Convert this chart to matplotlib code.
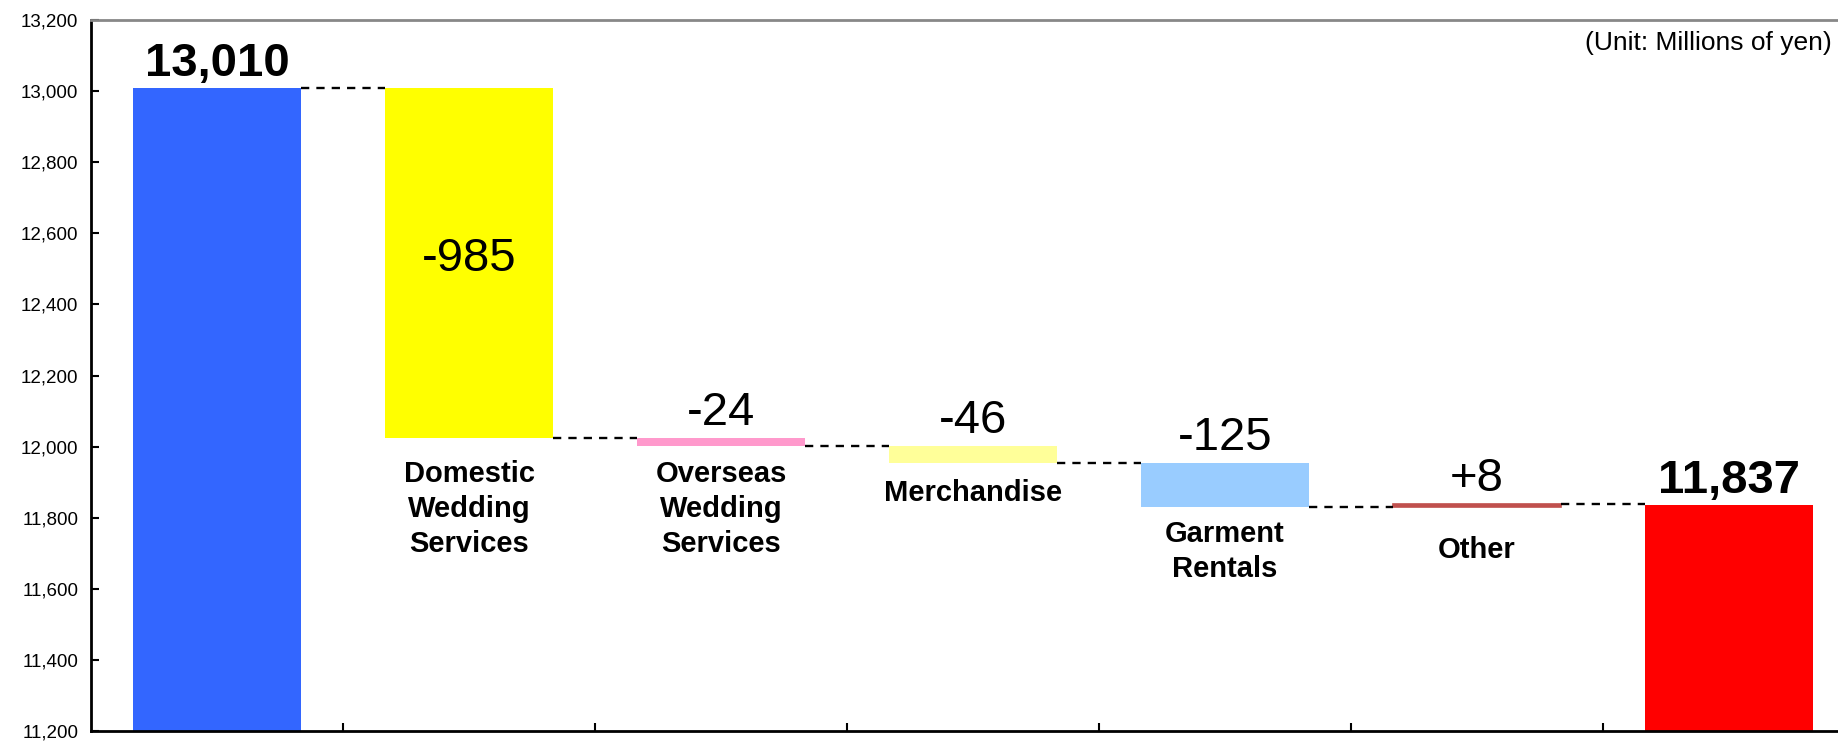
import matplotlib
matplotlib.use('Agg')
import matplotlib.pyplot as plt
from matplotlib.ticker import FuncFormatter, MultipleLocator

plt.rcParams['font.family'] = ['Liberation Sans', 'DejaVu Sans']

# data
categories = ['', 'Domestic\nWedding\nServices', 'Overseas\nWedding\nServices',
              'Merchandise', 'Garment\nRentals', 'Other', '']
start_value = 13010
deltas = [-985, -24, -46, -125, 8]
end_value = 11837
value_labels = ['13,010', '-985', '-24', '-46', '-125', '+8', '11,837']
colors = ['#3366FF', '#FFFF00', '#FF99CC', '#FFFF99', '#99CCFF', '#C0504D', '#FF0000']

# waterfall bottoms / heights
bottoms, heights = [0], [start_value]
level = start_value
for d in deltas:
    new = level + d
    bottoms.append(min(level, new))
    heights.append(abs(d))
    level = new
bottoms.append(0)
heights.append(end_value)
tops = [b + h for b, h in zip(bottoms, heights)]

fig = plt.figure(figsize=(18.38, 7.41), dpi=100)
# axes extends a bit past the right edge like the original
ax = fig.add_axes([91 / 1838, 10 / 741, 1764 / 1838, 711 / 741])

width = 0.67
x = list(range(len(categories)))
ax.bar(x, heights, bottom=bottoms, width=width, color=colors, linewidth=0)
# make the tiny "Other" bar visible like the source
ax.bar(x[5], heights[5], bottom=bottoms[5], width=width, color=colors[5],
       edgecolor=colors[5], linewidth=1.2)

# connector lines
levels = [start_value]
lv = start_value
for d in deltas:
    lv += d
    levels.append(lv)
for i in range(len(categories) - 1):
    y = levels[i]
    ax.plot([i + width / 2, i + 1 - width / 2], [y, y], color='black',
            linestyle=(0, (3.5, 3)), linewidth=1.7)

# value labels
for i in range(len(categories)):
    if i in (0, len(categories) - 1):
        ax.annotate(value_labels[i], (i, tops[i]), xytext=(0, 1),
                    textcoords='offset points', ha='center', va='bottom',
                    fontsize=34, fontweight='bold')
    elif heights[i] > 500:
        ax.text(i, bottoms[i] + heights[i] * 0.51, value_labels[i], ha='center',
                va='center', fontsize=34)
    else:
        ax.annotate(value_labels[i], (i, tops[i]), xytext=(0, 2),
                    textcoords='offset points', ha='center', va='bottom',
                    fontsize=34)

# category labels below the bars (gap in points, per label as in the source)
label_gap = [0, 16, 10, 12, 9, 21, 0]
for i in range(1, len(categories) - 1):
    ax.annotate(categories[i], (i, bottoms[i]), xytext=(0, -label_gap[i]),
                textcoords='offset points', ha='center', va='top',
                fontsize=21, fontweight='bold', linespacing=1.32)

ax.text(1832 / 1838, 1 - 43 / 741, '(Unit: Millions of yen)', transform=fig.transFigure,
        ha='right', va='center', fontsize=19)

ax.set_xlim(-0.5, len(categories) - 0.5)
ax.set_ylim(11200, 13200)
ax.yaxis.set_major_locator(MultipleLocator(200))
ax.yaxis.set_major_formatter(FuncFormatter(lambda v, p: f'{int(v):,}'))
ax.set_xticks([i + 0.5 for i in range(len(categories) - 1)])
ax.set_xticklabels([])
ax.tick_params(axis='y', direction='in', length=6, width=1.5, labelsize=13.5, pad=9)
ax.tick_params(axis='x', direction='in', length=6, width=1.5)

ax.spines['left'].set_linewidth(2)
ax.spines['bottom'].set_linewidth(2)
ax.spines['top'].set_color('#888888')
ax.spines['top'].set_linewidth(2)
ax.spines['right'].set_visible(False)

fig.savefig('out.png', dpi=100)
